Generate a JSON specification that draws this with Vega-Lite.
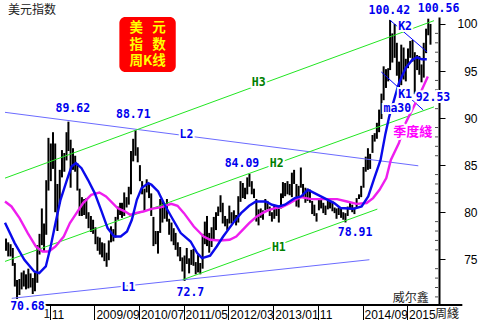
{
"$schema": "https://vega.github.io/schema/vega-lite/v6.json",
"width": 439, "height": 288,
"autosize": {"type": "none"},
"padding": {"left": 0, "top": 17, "right": 41, "bottom": 15},
"background": "white",
"config": {"view": {"stroke": null}},
"resolve": {"scale": {"color": "independent"}},
"datasets": {
"px": [
{"d":"2008-01-08","l":75.9,"h":77.2},{"d":"2008-01-23","l":75.3,"h":76.8},{"d":"2008-02-08","l":75.3,"h":76.6},{"d":"2008-02-23","l":74.3,"h":76.2},
{"d":"2008-03-08","l":72.1,"h":74.6},{"d":"2008-03-23","l":70.68,"h":72.8},{"d":"2008-04-08","l":71.2,"h":72.9},{"d":"2008-04-23","l":71.8,"h":73.6},
{"d":"2008-05-08","l":72.1,"h":73.8},{"d":"2008-05-23","l":71.8,"h":73.4},{"d":"2008-06-08","l":71.9,"h":74.0},{"d":"2008-06-23","l":72.0,"h":73.5},
{"d":"2008-07-08","l":71.3,"h":73.0},{"d":"2008-07-23","l":71.6,"h":73.6},{"d":"2008-08-08","l":72.5,"h":76.5},{"d":"2008-08-23","l":75.5,"h":77.7},
{"d":"2008-09-08","l":76.5,"h":80.4},{"d":"2008-09-23","l":75.8,"h":78.8},{"d":"2008-10-08","l":77.6,"h":83.4},{"d":"2008-10-23","l":82.3,"h":87.9},
{"d":"2008-11-08","l":83.3,"h":87.3},{"d":"2008-11-23","l":84.6,"h":88.5},{"d":"2008-12-08","l":80.0,"h":87.3},{"d":"2008-12-23","l":78.0,"h":83.0},
{"d":"2009-01-08","l":80.9,"h":84.5},{"d":"2009-01-23","l":83.7,"h":86.6},{"d":"2009-02-08","l":84.3,"h":86.3},{"d":"2009-02-23","l":85.5,"h":88.5},
{"d":"2009-03-08","l":86.5,"h":89.62},{"d":"2009-03-23","l":82.6,"h":87.7},{"d":"2009-04-08","l":84.5,"h":86.8},{"d":"2009-04-23","l":84.3,"h":86.0},
{"d":"2009-05-08","l":82.3,"h":85.2},{"d":"2009-05-23","l":79.6,"h":82.5},{"d":"2009-06-08","l":79.6,"h":81.6},{"d":"2009-06-23","l":79.7,"h":81.4},
{"d":"2009-07-08","l":79.3,"h":81.5},{"d":"2009-07-23","l":78.3,"h":80.0},{"d":"2009-08-08","l":77.9,"h":79.6},{"d":"2009-08-23","l":77.7,"h":79.2},
{"d":"2009-09-08","l":76.6,"h":78.4},{"d":"2009-09-23","l":75.9,"h":77.4},{"d":"2009-10-08","l":75.5,"h":77.3},{"d":"2009-10-23","l":75.2,"h":76.8},
{"d":"2009-11-08","l":74.8,"h":76.7},{"d":"2009-11-23","l":74.2,"h":75.7},{"d":"2009-12-08","l":74.9,"h":77.0},{"d":"2009-12-23","l":76.8,"h":78.5},
{"d":"2010-01-08","l":76.9,"h":78.2},{"d":"2010-01-23","l":77.3,"h":79.5},{"d":"2010-02-08","l":79.2,"h":80.6},{"d":"2010-02-23","l":79.7,"h":81.0},
{"d":"2010-03-08","l":79.4,"h":81.0},{"d":"2010-03-23","l":79.6,"h":82.1},{"d":"2010-04-08","l":80.5,"h":81.6},{"d":"2010-04-23","l":80.8,"h":82.7},
{"d":"2010-05-08","l":81.9,"h":86.5},{"d":"2010-05-23","l":85.4,"h":87.8},{"d":"2010-06-08","l":86.0,"h":88.71},{"d":"2010-06-23","l":85.3,"h":86.9},
{"d":"2010-07-08","l":83.3,"h":85.0},{"d":"2010-07-23","l":81.9,"h":83.3},{"d":"2010-08-08","l":80.1,"h":82.5},{"d":"2010-08-23","l":82.1,"h":83.5},
{"d":"2010-09-08","l":81.5,"h":83.0},{"d":"2010-09-23","l":79.6,"h":82.0},{"d":"2010-10-08","l":76.4,"h":79.5},{"d":"2010-10-23","l":76.6,"h":78.0},
{"d":"2010-11-08","l":75.6,"h":78.0},{"d":"2010-11-23","l":77.8,"h":81.4},{"d":"2010-12-08","l":78.9,"h":81.2},{"d":"2010-12-23","l":79.3,"h":80.8},
{"d":"2011-01-08","l":79.0,"h":81.4},{"d":"2011-01-23","l":77.6,"h":79.3},{"d":"2011-02-08","l":76.9,"h":78.9},{"d":"2011-02-23","l":76.5,"h":78.3},
{"d":"2011-03-08","l":76.0,"h":77.8},{"d":"2011-03-23","l":75.3,"h":76.8},{"d":"2011-04-08","l":74.8,"h":76.3},{"d":"2011-04-23","l":73.7,"h":75.2},
{"d":"2011-05-08","l":72.7,"h":75.4},{"d":"2011-05-23","l":74.5,"h":76.2},{"d":"2011-06-08","l":73.5,"h":75.1},{"d":"2011-06-23","l":74.4,"h":76.0},
{"d":"2011-07-08","l":74.3,"h":76.1},{"d":"2011-07-23","l":73.4,"h":74.7},{"d":"2011-08-08","l":73.6,"h":75.5},{"d":"2011-08-23","l":73.4,"h":74.6},
{"d":"2011-09-08","l":74.0,"h":77.7},{"d":"2011-09-23","l":76.6,"h":79.0},{"d":"2011-10-08","l":76.4,"h":79.6},{"d":"2011-10-23","l":75.7,"h":77.8},
{"d":"2011-11-08","l":76.3,"h":78.4},{"d":"2011-11-23","l":77.1,"h":79.5},{"d":"2011-12-08","l":78.1,"h":80.0},{"d":"2011-12-23","l":79.6,"h":80.6},
{"d":"2012-01-08","l":80.0,"h":81.8},{"d":"2012-01-23","l":78.8,"h":81.0},{"d":"2012-02-08","l":78.5,"h":79.6},{"d":"2012-02-23","l":78.1,"h":79.3},
{"d":"2012-03-08","l":78.8,"h":80.7},{"d":"2012-03-23","l":78.8,"h":80.0},{"d":"2012-04-08","l":79.0,"h":80.2},{"d":"2012-04-23","l":78.6,"h":79.7},
{"d":"2012-05-08","l":78.9,"h":81.7},{"d":"2012-05-23","l":81.1,"h":83.3},{"d":"2012-06-08","l":81.5,"h":83.1},{"d":"2012-06-23","l":81.4,"h":82.6},
{"d":"2012-07-08","l":81.9,"h":83.7},{"d":"2012-07-23","l":82.7,"h":84.09},{"d":"2012-08-08","l":81.9,"h":83.3},{"d":"2012-08-23","l":81.5,"h":82.5},
{"d":"2012-09-08","l":79.0,"h":81.4},{"d":"2012-09-23","l":78.6,"h":80.3},{"d":"2012-10-08","l":79.4,"h":80.4},{"d":"2012-10-23","l":79.2,"h":80.2},
{"d":"2012-11-08","l":80.2,"h":81.4},{"d":"2012-11-23","l":80.3,"h":81.2},{"d":"2012-12-08","l":79.6,"h":80.6},{"d":"2012-12-23","l":79.0,"h":80.0},
{"d":"2013-01-08","l":79.3,"h":80.8},{"d":"2013-01-23","l":79.6,"h":80.4},{"d":"2013-02-08","l":78.9,"h":80.4},{"d":"2013-02-23","l":80.4,"h":82.0},
{"d":"2013-03-08","l":81.5,"h":83.2},{"d":"2013-03-23","l":81.7,"h":83.1},{"d":"2013-04-08","l":81.9,"h":83.3},{"d":"2013-04-23","l":81.8,"h":83.0},
{"d":"2013-05-08","l":81.6,"h":84.2},{"d":"2013-05-23","l":83.0,"h":84.5},{"d":"2013-06-08","l":80.6,"h":83.0},{"d":"2013-06-23","l":80.5,"h":82.8},
{"d":"2013-07-08","l":82.6,"h":84.75},{"d":"2013-07-23","l":81.6,"h":83.0},{"d":"2013-08-08","l":81.0,"h":82.6},{"d":"2013-08-23","l":81.2,"h":82.5},
{"d":"2013-09-08","l":81.0,"h":82.4},{"d":"2013-09-23","l":79.8,"h":81.2},{"d":"2013-10-08","l":79.6,"h":80.8},{"d":"2013-10-23","l":79.0,"h":79.9},
{"d":"2013-11-08","l":80.2,"h":81.5},{"d":"2013-11-23","l":80.4,"h":81.3},{"d":"2013-12-08","l":79.9,"h":81.0},{"d":"2013-12-23","l":79.7,"h":80.7},
{"d":"2014-01-08","l":80.3,"h":81.5},{"d":"2014-01-23","l":80.4,"h":81.3},{"d":"2014-02-08","l":80.1,"h":81.2},{"d":"2014-02-23","l":79.9,"h":80.5},
{"d":"2014-03-08","l":79.3,"h":80.4},{"d":"2014-03-23","l":79.7,"h":80.5},{"d":"2014-04-08","l":79.4,"h":80.4},{"d":"2014-04-23","l":79.2,"h":80.0},
{"d":"2014-05-08","l":78.91,"h":79.9},{"d":"2014-05-23","l":79.6,"h":80.6},{"d":"2014-06-08","l":80.3,"h":81.0},{"d":"2014-06-23","l":80.0,"h":80.8},
{"d":"2014-07-08","l":79.8,"h":80.5},{"d":"2014-07-23","l":80.5,"h":81.5},{"d":"2014-08-08","l":81.4,"h":81.9},{"d":"2014-08-23","l":81.6,"h":82.8},
{"d":"2014-09-08","l":82.6,"h":84.8},{"d":"2014-09-23","l":84.3,"h":85.9},{"d":"2014-10-08","l":84.5,"h":86.8},{"d":"2014-10-23","l":84.6,"h":86.2},
{"d":"2014-11-08","l":86.3,"h":88.2},{"d":"2014-11-23","l":87.5,"h":88.4},{"d":"2014-12-08","l":87.8,"h":89.5},{"d":"2014-12-23","l":88.5,"h":90.9},
{"d":"2015-01-08","l":89.9,"h":92.6},{"d":"2015-01-23","l":91.9,"h":95.5},{"d":"2015-02-08","l":93.2,"h":95.2},{"d":"2015-02-23","l":93.9,"h":95.3},
{"d":"2015-03-08","l":95.1,"h":100.42},{"d":"2015-03-23","l":95.9,"h":99.0},{"d":"2015-04-08","l":96.4,"h":100.0},{"d":"2015-04-23","l":94.5,"h":98.0},
{"d":"2015-05-08","l":93.1,"h":96.0},{"d":"2015-05-23","l":93.5,"h":97.8},{"d":"2015-06-08","l":94.1,"h":97.5},{"d":"2015-06-23","l":93.9,"h":96.3},
{"d":"2015-07-08","l":95.3,"h":97.4},{"d":"2015-07-23","l":96.4,"h":98.2},{"d":"2015-08-08","l":96.0,"h":98.3},{"d":"2015-08-23","l":92.53,"h":97.0},
{"d":"2015-09-08","l":95.1,"h":96.7},{"d":"2015-09-23","l":94.6,"h":96.6},{"d":"2015-10-08","l":93.8,"h":95.7},{"d":"2015-10-23","l":94.3,"h":98.0},
{"d":"2015-11-08","l":96.9,"h":99.5},{"d":"2015-11-23","l":98.8,"h":100.56},{"d":"2015-12-08","l":97.8,"h":100.0}
],
"tl": [
{"id":"L2","d":"2008-01-01","v":90.61},{"id":"L2","d":"2015-09-16","v":84.93},
{"id":"L1","d":"2008-02-16","v":70.85},{"id":"L1","d":"2014-10-18","v":74.95},
{"id":"H1","d":"2011-04-25","v":72.82},{"id":"H1","d":"2014-12-11","v":80.33},
{"id":"H2","d":"2008-01-01","v":74.77},{"id":"H2","d":"2016-01-01","v":91.19},
{"id":"H3","d":"2008-01-01","v":83.62},{"id":"H3","d":"2016-01-01","v":100.35},
{"id":"K1","d":"2015-01-07","v":94.90},{"id":"K1","d":"2015-10-19","v":90.87},
{"id":"K2","d":"2015-03-06","v":100.42},{"id":"K2","d":"2015-11-15","v":97.03}
],
"ma": [
{"id":"QL","d":"2008-01-01","v":81.14},{"id":"QL","d":"2008-02-14","v":80.61},{"id":"QL","d":"2008-04-09","v":79.37},{"id":"QL","d":"2008-06-04","v":77.78},
{"id":"QL","d":"2008-07-29","v":76.36},{"id":"QL","d":"2008-09-12","v":75.83},{"id":"QL","d":"2008-10-26","v":75.83},{"id":"QL","d":"2008-12-10","v":76.36},
{"id":"QL","d":"2009-02-04","v":77.42},{"id":"QL","d":"2009-03-18","v":78.84},{"id":"QL","d":"2009-05-02","v":79.90},{"id":"QL","d":"2009-06-16","v":80.97},
{"id":"QL","d":"2009-08-10","v":81.85},{"id":"QL","d":"2009-10-05","v":82.09},{"id":"QL","d":"2009-11-19","v":81.67},{"id":"QL","d":"2010-01-03","v":80.97},
{"id":"QL","d":"2010-02-05","v":80.44},{"id":"QL","d":"2010-03-30","v":80.07},{"id":"QL","d":"2010-05-03","v":79.72},{"id":"QL","d":"2010-06-06","v":79.90},
{"id":"QL","d":"2010-07-31","v":80.07},{"id":"QL","d":"2010-09-25","v":80.36},{"id":"QL","d":"2010-12-01","v":80.54},{"id":"QL","d":"2011-02-06","v":80.89},
{"id":"QL","d":"2011-03-21","v":80.68},{"id":"QL","d":"2011-05-04","v":79.90},{"id":"QL","d":"2011-07-10","v":78.48},{"id":"QL","d":"2011-09-15","v":77.42},
{"id":"QL","d":"2011-10-29","v":77.07},{"id":"QL","d":"2012-01-04","v":77.0},{"id":"QL","d":"2012-03-10","v":77.07},{"id":"QL","d":"2012-04-24","v":77.42},
{"id":"QL","d":"2012-06-07","v":78.13},{"id":"QL","d":"2012-07-21","v":78.84},{"id":"QL","d":"2012-09-05","v":79.48},{"id":"QL","d":"2012-10-19","v":79.90},
{"id":"QL","d":"2012-12-03","v":80.25},{"id":"QL","d":"2013-01-17","v":80.44},{"id":"QL","d":"2013-03-01","v":80.54},{"id":"QL","d":"2013-04-14","v":80.89},
{"id":"QL","d":"2013-06-08","v":81.39},{"id":"QL","d":"2013-07-11","v":81.60},{"id":"QL","d":"2013-09-17","v":81.39},{"id":"QL","d":"2013-12-15","v":81.39},
{"id":"QL","d":"2014-03-12","v":81.39},{"id":"QL","d":"2014-05-18","v":81.14},{"id":"QL","d":"2014-07-23","v":80.89},{"id":"QL","d":"2014-09-29","v":80.97},
{"id":"QL","d":"2014-11-12","v":81.50},{"id":"QL","d":"2014-12-26","v":82.38},{"id":"QL","d":"2015-02-10","v":83.62},{"id":"QL","d":"2015-03-13","v":85.56},
{"id":"QL","d":"2015-05-07","v":87.34},{"id":"QL","d":"2015-06-21","v":89.46},{"id":"QL","d":"2015-08-16","v":91.22},{"id":"QL","d":"2015-09-19","v":92.28},
{"id":"QL","d":"2015-11-20","v":94.41},
{"id":"MA","d":"2008-01-01","v":78.87},{"id":"MA","d":"2008-03-07","v":76.72},{"id":"MA","d":"2008-05-12","v":74.95},{"id":"MA","d":"2008-07-18","v":73.70},
{"id":"MA","d":"2008-08-21","v":73.53},{"id":"MA","d":"2008-10-05","v":74.24},{"id":"MA","d":"2008-11-07","v":76.36},{"id":"MA","d":"2008-12-10","v":78.84},
{"id":"MA","d":"2009-01-13","v":81.32},{"id":"MA","d":"2009-02-26","v":83.44},{"id":"MA","d":"2009-03-29","v":84.85},{"id":"MA","d":"2009-04-28","v":85.21},
{"id":"MA","d":"2009-06-05","v":84.68},{"id":"MA","d":"2009-07-19","v":83.44},{"id":"MA","d":"2009-09-03","v":82.03},{"id":"MA","d":"2009-10-16","v":80.25},
{"id":"MA","d":"2009-11-30","v":78.31},{"id":"MA","d":"2010-01-14","v":77.42},{"id":"MA","d":"2010-02-27","v":77.42},{"id":"MA","d":"2010-04-11","v":77.95},
{"id":"MA","d":"2010-05-14","v":79.19},{"id":"MA","d":"2010-06-17","v":81.32},{"id":"MA","d":"2010-07-20","v":82.56},{"id":"MA","d":"2010-09-03","v":83.09},
{"id":"MA","d":"2010-09-25","v":82.91},{"id":"MA","d":"2010-11-09","v":82.20},{"id":"MA","d":"2010-12-23","v":80.79},{"id":"MA","d":"2011-02-06","v":79.54},
{"id":"MA","d":"2011-04-12","v":77.78},{"id":"MA","d":"2011-06-18","v":76.89},{"id":"MA","d":"2011-08-02","v":75.66},{"id":"MA","d":"2011-09-04","v":75.13},
{"id":"MA","d":"2011-10-29","v":75.37},{"id":"MA","d":"2011-12-13","v":76.36},{"id":"MA","d":"2012-01-26","v":77.42},{"id":"MA","d":"2012-04-02","v":78.84},
{"id":"MA","d":"2012-05-27","v":79.90},{"id":"MA","d":"2012-07-21","v":80.68},{"id":"MA","d":"2012-09-05","v":81.14},{"id":"MA","d":"2012-11-11","v":81.14},
{"id":"MA","d":"2012-12-24","v":80.79},{"id":"MA","d":"2013-02-08","v":80.61},{"id":"MA","d":"2013-03-22","v":80.79},{"id":"MA","d":"2013-05-28","v":81.50},
{"id":"MA","d":"2013-07-11","v":81.69},{"id":"MA","d":"2013-08-25","v":82.38},{"id":"MA","d":"2013-10-09","v":82.03},{"id":"MA","d":"2013-12-15","v":81.50},
{"id":"MA","d":"2014-02-20","v":80.97},{"id":"MA","d":"2014-04-04","v":80.44},{"id":"MA","d":"2014-07-02","v":80.36},{"id":"MA","d":"2014-08-26","v":80.61},
{"id":"MA","d":"2014-10-10","v":81.67},{"id":"MA","d":"2014-11-21","v":83.66},{"id":"MA","d":"2015-01-02","v":85.56},{"id":"MA","d":"2015-02-04","v":88.32},
{"id":"MA","d":"2015-03-02","v":90.16},{"id":"MA","d":"2015-04-04","v":91.93},{"id":"MA","d":"2015-05-07","v":93.70},{"id":"MA","d":"2015-06-21","v":95.30},
{"id":"MA","d":"2015-08-05","v":96.18},{"id":"MA","d":"2015-09-08","v":96.46},{"id":"MA","d":"2015-10-11","v":96.25},{"id":"MA","d":"2015-11-13","v":96.25}
],
"mt": [{"v":71},{"v":72},{"v":73},{"v":74},{"v":76},{"v":77},{"v":78},{"v":79},{"v":81},{"v":82},{"v":83},{"v":84},{"v":86},{"v":87},{"v":88},{"v":89},{"v":91},{"v":92},{"v":93},{"v":94},{"v":96},{"v":97},{"v":98},{"v":99}],
"base": [{"d":"2008-09-23","d2":"2016-07-12","v":70.14}],
"box": [{"d":"2010-02-18","d2":"2011-03-09","v":100.74,"v2":94.90}],
"boxt": [{"t":"美\u00a0\u00a0\u00a0元\n指\u00a0\u00a0\u00a0数\n周K线","d":"2010-08-29","v":99.57}],
"lab": [
{"t":"100.42","d":"2015-03-03","v":101.38,"g":"b"},{"t":"100.56","d":"2016-02-01","v":101.59,"g":"b"},
{"t":"89.62","d":"2009-04-07","v":90.98,"g":"b"},{"t":"88.71","d":"2010-05-24","v":90.34,"g":"b"},
{"t":"84.09","d":"2012-06-02","v":85.14,"g":"b"},{"t":"72.7","d":"2011-06-17","v":71.44,"g":"b"},
{"t":"70.68","d":"2008-06-02","v":69.96,"g":"b"},{"t":"78.91","d":"2014-07-13","v":77.81,"g":"b"},
{"t":"92.53","d":"2015-12-25","v":92.14,"g":"b"},{"t":"ma30","d":"2015-04-26","v":90.98,"g":"b"},
{"t":"K1","d":"2015-06-18","v":92.46,"g":"b"},{"t":"K2","d":"2015-06-18","v":99.68,"g":"b"},
{"t":"L1","d":"2010-04-21","v":71.97,"g":"b"},{"t":"L2","d":"2011-05-21","v":88.22,"g":"b"},
{"t":"H1","d":"2013-02-08","v":76.22,"g":"g"},{"t":"H2","d":"2013-01-25","v":85.14,"g":"g"},{"t":"H3","d":"2012-09-24","v":93.74,"g":"g"}
],
"ql": [{"t":"季度綫","d":"2015-08-10","v":88.54}],
"plain": [
{"t":"美元指数","d":"2008-01-21","v":101.11},{"t":"威尔鑫","d":"2015-03-26","v":70.49},
{"t":"周綫","d":"2016-01-08","v":68.79},{"t":"1","d":"2008-09-20","v":68.79}
]
},
"layer": [
{
"data": {"name": "px"},
"mark": {"type": "bar", "color": "black", "size": 2.0, "orient": "vertical"},
"encoding": {
"x": {"field": "d", "type": "temporal",
 "scale": {"type": "utc", "domain": [{"year":2008,"month":1,"date":1,"utc":true},{"year":2016,"month":1,"date":1,"utc":true}]},
 "axis": {"title": null, "grid": false, "domain": false,
  "values": [{"year":2008,"month":11,"date":1,"utc":true},{"year":2009,"month":9,"date":1,"utc":true},{"year":2010,"month":7,"date":1,"utc":true},{"year":2011,"month":5,"date":1,"utc":true},{"year":2012,"month":3,"date":1,"utc":true},{"year":2013,"month":1,"date":1,"utc":true},{"year":2013,"month":11,"date":1,"utc":true},{"year":2014,"month":9,"date":1,"utc":true},{"year":2015,"month":7,"date":1,"utc":true}],
  "labelExpr": "utcmonth(datum.value) == 10 ? '11' : (utcyear(datum.value) == 2015 ? '2015' : utcFormat(datum.value, '%Y/%m'))",
  "tickColor": "black", "tickWidth": 1, "tickSize": 15,
  "labelAlign": "left", "labelBaseline": "alphabetic", "labelPadding": -2, "labelOffset": 1.5,
  "labelFont": "Liberation Sans", "labelFontSize": 12, "labelColor": "black",
  "labelOverlap": false, "labelBound": false, "labelFlush": false}},
"y": {"field": "l", "type": "quantitative",
 "scale": {"domain": [70.14, 100.74], "zero": false, "nice": false},
 "axis": {"orient": "right", "title": null, "grid": false,
  "values": [75, 80, 85, 90, 95, 100],
  "domainColor": "black", "domainWidth": 2, "tickColor": "black", "tickWidth": 1, "tickSize": 6,
  "labelAlign": "right", "labelBaseline": "middle", "labelPadding": 32,
  "labelFont": "Liberation Sans", "labelFontSize": 12, "labelColor": "black", "labelOverlap": false, "labelBound": false}},
"y2": {"field": "h"}
}
},
{
"data": {"name": "mt"},
"mark": {"type": "tick", "orient": "horizontal", "color": "black", "size": 3, "thickness": 1, "xOffset": 2.5},
"encoding": {
"x": {"datum": {"year":2016,"month":1,"date":1,"utc":true}, "type": "temporal"},
"y": {"field": "v", "type": "quantitative"}
}
},
{
"data": {"name": "base"},
"mark": {"type": "rule", "color": "black", "strokeWidth": 2},
"encoding": {
"x": {"field": "d", "type": "temporal"}, "x2": {"field": "d2"},
"y": {"field": "v", "type": "quantitative"}
}
},
{
"data": {"name": "tl"},
"mark": {"type": "line", "strokeWidth": 1},
"encoding": {
"x": {"field": "d", "type": "temporal"},
"y": {"field": "v", "type": "quantitative"},
"color": {"field": "id", "type": "nominal", "legend": null,
 "scale": {"domain": ["L1","L2","H1","H2","H3","K1","K2"], "range": ["#6b6bff","#6b6bff","#22e622","#22e622","#22e622","#0000ff","#0000ff"]}}
}
},
{
"data": {"name": "ma"},
"mark": {"type": "line", "strokeWidth": 2.4},
"encoding": {
"x": {"field": "d", "type": "temporal"},
"y": {"field": "v", "type": "quantitative"},
"color": {"field": "id", "type": "nominal", "legend": null,
 "scale": {"domain": ["QL","MA"], "range": ["#ee1eee","#0a0aeb"]}}
}
},
{
"data": {"name": "box"},
"mark": {"type": "rect", "color": "#ff0000", "cornerRadius": 6},
"encoding": {
"x": {"field": "d", "type": "temporal"}, "x2": {"field": "d2"},
"y": {"field": "v", "type": "quantitative"}, "y2": {"field": "v2"}
}
},
{
"data": {"name": "boxt"},
"mark": {"type": "text", "font": "Noto Sans CJK SC", "fontWeight": "bold", "fontSize": 13.5, "lineHeight": 16.5, "lineBreak": "\n", "color": "#ffff00", "align": "center", "baseline": "middle"},
"encoding": {
"x": {"field": "d", "type": "temporal"},
"y": {"field": "v", "type": "quantitative"},
"text": {"field": "t"}
}
},
{
"data": {"name": "lab"},
"mark": {"type": "text", "font": "DejaVu Sans Mono", "fontWeight": "bold", "fontSize": 11.5, "fill": "white", "stroke": "white", "strokeWidth": 4, "align": "center", "baseline": "middle"},
"encoding": {
"x": {"field": "d", "type": "temporal"},
"y": {"field": "v", "type": "quantitative"},
"text": {"field": "t"}
}
},
{
"data": {"name": "lab"},
"mark": {"type": "text", "font": "DejaVu Sans Mono", "fontWeight": "bold", "fontSize": 11.5, "align": "center", "baseline": "middle"},
"encoding": {
"x": {"field": "d", "type": "temporal"},
"y": {"field": "v", "type": "quantitative"},
"text": {"field": "t"},
"color": {"field": "g", "type": "nominal", "legend": null, "scale": {"domain": ["b","g"], "range": ["#0000ee","#008000"]}}
}
},
{
"data": {"name": "ql"},
"mark": {"type": "text", "font": "Noto Sans CJK SC", "fontWeight": "bold", "fontSize": 13, "fill": "white", "stroke": "white", "strokeWidth": 4, "align": "center", "baseline": "middle"},
"encoding": {
"x": {"field": "d", "type": "temporal"},
"y": {"field": "v", "type": "quantitative"},
"text": {"field": "t"}
}
},
{
"data": {"name": "ql"},
"mark": {"type": "text", "font": "Noto Sans CJK SC", "fontWeight": "bold", "fontSize": 13, "color": "#ff00ff", "align": "center", "baseline": "middle"},
"encoding": {
"x": {"field": "d", "type": "temporal"},
"y": {"field": "v", "type": "quantitative"},
"text": {"field": "t"}
}
},
{
"data": {"name": "plain"},
"mark": {"type": "text", "font": "Noto Sans CJK SC", "fontSize": 12, "color": "#222222", "align": "left", "baseline": "alphabetic"},
"encoding": {
"x": {"field": "d", "type": "temporal"},
"y": {"field": "v", "type": "quantitative"},
"text": {"field": "t"}
}
}
]
}
